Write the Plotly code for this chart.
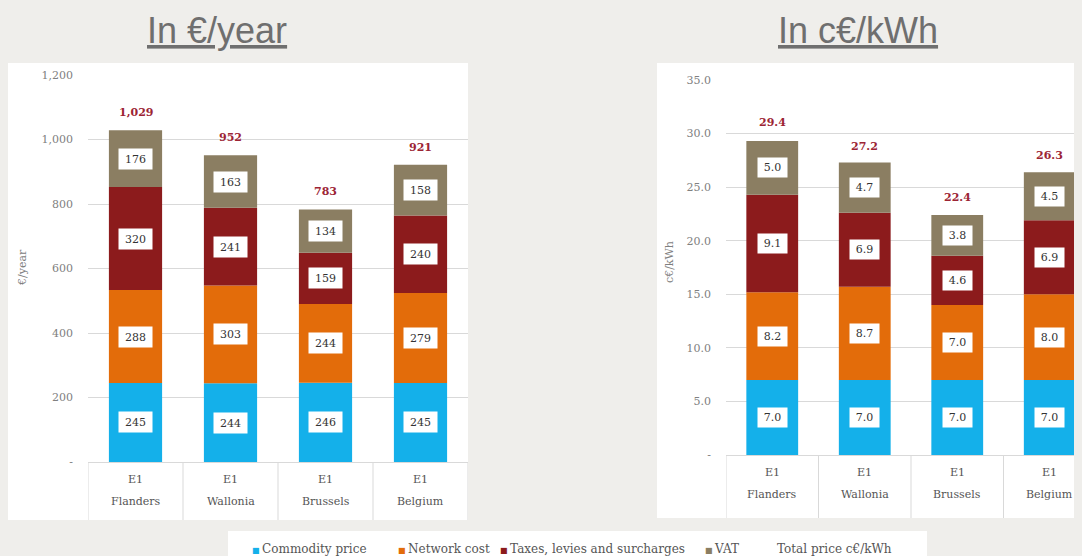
import plotly.graph_objects as go

# viewport size and the page's default body margin
VW, VH = 1082, 556
OFF = 8
W, H = VW - OFF, VH - OFF
PAGE_BG = "#efeeeb"

regions = ["Flanders", "Wallonia", "Brussels", "Belgium"]
cat_top = ["E1", "E1", "E1", "E1"]

series_names = ["Commodity price", "Network cost", "Taxes, levies and surcharges", "VAT"]
series_colors = ["#14b0ea", "#e36c0a", "#8c1b1c", "#8b7e62"]
total_name = "Total price c€/kWh"

# In €/year
commodity_eur = [245, 244, 246, 245]
network_eur = [288, 303, 244, 279]
taxes_eur = [320, 241, 159, 240]
vat_eur = [176, 163, 134, 158]
total_eur = [1029, 952, 783, 921]
eur_tickvals = [0, 200, 400, 600, 800, 1000, 1200]
eur_ticktext = ["-", "200", "400", "600", "800", "1,000", "1,200"]

# In c€/kWh
commodity_ct = [7.0, 7.0, 7.0, 7.0]
network_ct = [8.2, 8.7, 7.0, 8.0]
taxes_ct = [9.1, 6.9, 4.6, 6.9]
vat_ct = [5.0, 4.7, 3.8, 4.5]
total_ct = [29.4, 27.2, 22.4, 26.3]
ct_tickvals = [0, 5, 10, 15, 20, 25, 30, 35]
ct_ticktext = ["-", "5.0", "10.0", "15.0", "20.0", "25.0", "30.0", "35.0"]

SERIF = "Georgia, DejaVu Serif, serif"
SANS = "Liberation Sans, Arial, sans-serif"


def px_x(p):
    return (p - OFF) / W


def px_y(p):
    return (VH - p) / H


fig = go.Figure()

panels = [
    dict(xa="x", ya="y", data=[commodity_eur, network_eur, taxes_eur, vat_eur], total=total_eur,
         fmt="{:.0f}", tfmt="{:,.0f}", box=(31, 18)),
    dict(xa="x2", ya="y2", data=[commodity_ct, network_ct, taxes_ct, vat_ct], total=total_ct,
         fmt="{:.1f}", tfmt="{:.1f}", box=(27, 17)),
]

annotations = []
shapes = []

for p in panels:
    base = [0.0] * len(regions)
    for name, color, vals in zip(series_names, series_colors, p["data"]):
        fig.add_trace(go.Bar(
            x=regions, y=vals, base=base, name=name, marker_color=color,
            marker_line_width=0, width=0.56, xaxis=p["xa"], yaxis=p["ya"],
            showlegend=False, hoverinfo="skip",
        ))
        for r, v, b in zip(regions, vals, base):
            annotations.append(dict(
                x=r, y=b + v / 2, xref=p["xa"], yref=p["ya"], text=p["fmt"].format(v),
                showarrow=False, bgcolor="white", width=p["box"][0], height=p["box"][1],
                xanchor="center", yanchor="middle",
                font=dict(family=SERIF, size=11, color="#333333"),
            ))
        base = [b + v for b, v in zip(base, vals)]
    for r, t in zip(regions, p["total"]):
        annotations.append(dict(
            x=r, y=t, xref=p["xa"], yref=p["ya"], text="<b>" + p["tfmt"].format(t) + "</b>",
            showarrow=False, xanchor="center", yanchor="bottom", yshift=9,
            font=dict(family=SERIF, size=11, color="#9c2434"),
        ))

# Legend entries (one small legend per entry so each sits where it does in the original)
legend_text_x = [252, 398, 500, 705, 777]
legend_cfg = {}
for i, (name, color) in enumerate(list(zip(series_names, series_colors)) + [(total_name, None)]):
    key = "legend" if i == 0 else "legend%d" % (i + 1)
    label = name if color is None else (
        "<span style='color:%s;font-size:8px'>■ </span>%s" % (color, name))
    fig.add_trace(go.Scatter(x=[None], y=[None], mode="markers", name=label,
                             marker=dict(color="rgba(0,0,0,0)", size=1), xaxis="x", yaxis="y",
                             legend=key, showlegend=True, hoverinfo="skip"))
    legend_cfg[key] = dict(orientation="h", x=px_x(legend_text_x[i] - 40), y=-7 / H,
                           xanchor="left", yanchor="bottom", bgcolor="rgba(0,0,0,0)",
                           font=dict(family=SERIF, size=12, color="#555555"),
                           itemclick=False, itemdoubleclick=False)

# Axis geometry (viewport pixels)
L = dict(x0=88, x1=468, y0=462, y1=75, pb=520, panel=(8, 63, 468, 520))
R = dict(x0=726, x1=1096, y0=455, y1=80, pb=518, panel=(657, 63, 1082, 518))


def xrange_for(g):
    frac = (min(g["x1"], VW) - g["x0"]) / (g["x1"] - g["x0"])
    return [-0.5, -0.5 + len(regions) * frac]


grid = "#d9d9d9"
tickfont = dict(family=SERIF, size=11, color="#808080")

fig.update_layout(
    xaxis=dict(domain=[px_x(L["x0"]), px_x(L["x1"])], range=xrange_for(L), showticklabels=False,
               showgrid=False, zeroline=False, showline=True, linecolor=grid, ticks="",
               categoryorder="array", categoryarray=regions, anchor="y"),
    yaxis=dict(domain=[px_y(L["y0"]), px_y(L["y1"])], range=[0, 1200], tickvals=eur_tickvals,
               ticktext=eur_ticktext, showgrid=True, gridcolor=grid, zeroline=False,
               tickfont=tickfont, ticks="", ticklabelstandoff=14, anchor="x"),
    xaxis2=dict(domain=[px_x(R["x0"]), 1.0], range=xrange_for(R), showticklabels=False,
                showgrid=False, zeroline=False, showline=True, linecolor=grid, ticks="",
                categoryorder="array", categoryarray=regions, anchor="y2"),
    yaxis2=dict(domain=[px_y(R["y0"]), px_y(R["y1"])], range=[0, 35], tickvals=ct_tickvals,
                ticktext=ct_ticktext, showgrid=True, gridcolor=grid, zeroline=False,
                tickfont=tickfont, ticks="", ticklabelstandoff=14, anchor="x2"),
)

for g, xa in ((L, "x"), (R, "x2")):
    px0, py0, px1, py1 = g["panel"]
    shapes.append(dict(type="rect", xref="paper", yref="paper", x0=px_x(px0), x1=px_x(px1),
                       y0=px_y(py1), y1=px_y(py0), fillcolor="white", line_width=0, layer="below"))
    for i in range(len(regions) + 1):
        shapes.append(dict(type="line", xref=xa, yref="paper", x0=i - 0.5, x1=i - 0.5,
                           y0=px_y(g["pb"]), y1=px_y(g["y0"]), line=dict(color=grid, width=1)))
    for r, top in zip(regions, cat_top):
        annotations.append(dict(x=r, xref=xa, yref="paper", y=px_y(g["y0"] + 17), text=top,
                                showarrow=False, xanchor="center", yanchor="middle",
                                font=dict(family=SERIF, size=11, color="#555555")))
        annotations.append(dict(x=r, xref=xa, yref="paper", y=px_y(g["y0"] + 39), text=r,
                                showarrow=False, xanchor="center", yanchor="middle",
                                font=dict(family=SERIF, size=11, color="#555555")))

# legend white box
shapes.append(dict(type="rect", xref="paper", yref="paper", x0=px_x(228), x1=px_x(927),
                   y0=0, y1=px_y(531), fillcolor="white", line_width=0, layer="below"))

# axis titles
annotations.append(dict(x=px_x(22), y=px_y(268), xref="paper", yref="paper", text="€/year",
                        textangle=-90, showarrow=False, xanchor="center", yanchor="middle",
                        font=dict(family=SERIF, size=11, color="#808080")))
annotations.append(dict(x=px_x(669), y=px_y(262), xref="paper", yref="paper", text="c€/kWh",
                        textangle=-90, showarrow=False, xanchor="center", yanchor="middle",
                        font=dict(family=SERIF, size=11, color="#808080")))

# section headings
annotations.append(dict(x=px_x(217), y=px_y(30), xref="paper", yref="paper",
                        text="<u>In €/year</u>", showarrow=False, xanchor="center",
                        yanchor="middle", font=dict(family=SANS, size=36, color="#6f6f6f")))
annotations.append(dict(x=px_x(858), y=px_y(30), xref="paper", yref="paper",
                        text="<u>In c€/kWh</u>", showarrow=False, xanchor="center",
                        yanchor="middle", font=dict(family=SANS, size=36, color="#6f6f6f")))

fig.update_layout(
    width=W, height=H, margin=dict(l=0, r=0, t=0, b=0, autoexpand=False),
    paper_bgcolor=PAGE_BG, plot_bgcolor="rgba(0,0,0,0)",
    barmode="overlay",
    annotations=annotations, shapes=shapes,
    **legend_cfg,
)

fig.write_html("out.html", post_script="document.body.style.background='%s';" % PAGE_BG)
